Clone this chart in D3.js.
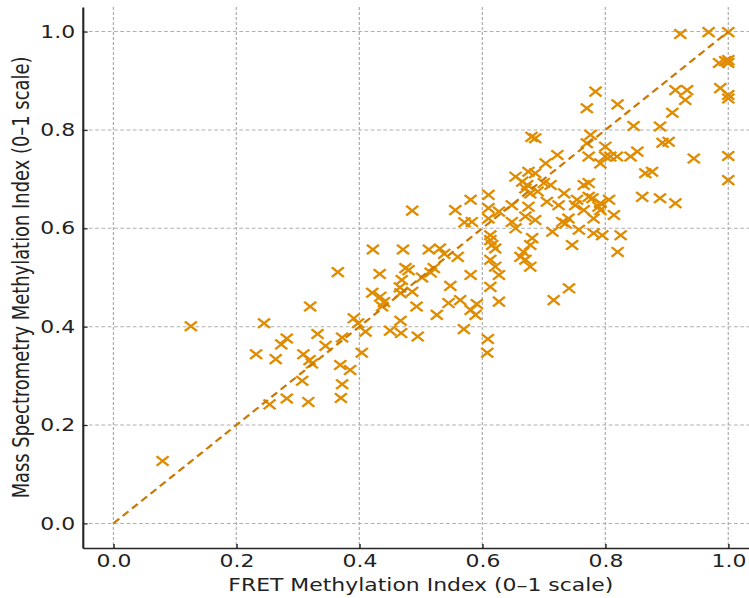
<!DOCTYPE html>
<html>
<head>
<meta charset="utf-8">
<script src="https://cdn.jsdelivr.net/npm/d3@7"></script>
<style>
  body { margin: 0; background: #fff; }
  svg { display: block; }
</style>
</head>
<body>
<div id="scatter"></div>
<script>

// FRET methylation index (x) and mass spectrometry index (y)
var fretIndex = [
  0.080, 0.126, 0.232, 0.245, 0.254, 0.264, 0.273, 0.282, 0.282, 0.307,
  0.309, 0.317, 0.319, 0.320, 0.323, 0.332, 0.345, 0.365, 0.369, 0.370,
  0.372, 0.372, 0.385, 0.391, 0.398, 0.404, 0.410, 0.421, 0.422, 0.433,
  0.434, 0.437, 0.440, 0.450, 0.466, 0.467, 0.468, 0.467, 0.469, 0.471,
  0.475, 0.480, 0.486, 0.486, 0.493, 0.495, 0.502, 0.513, 0.516, 0.521,
  0.526, 0.531, 0.538, 0.545, 0.548, 0.556, 0.560, 0.564, 0.570, 0.571,
  0.581, 0.589, 0.591, 0.581, 0.581, 0.583, 0.608, 0.609, 0.610, 0.610,
  0.610, 0.613, 0.613, 0.616, 0.621, 0.613, 0.621, 0.627, 0.613, 0.627,
  0.627, 0.648, 0.648, 0.654, 0.654, 0.662, 0.667, 0.670, 0.678, 0.678,
  0.681, 0.673, 0.678, 0.670, 0.675, 0.670, 0.686, 0.675, 0.686, 0.686,
  0.680, 0.700, 0.703, 0.705, 0.711, 0.714, 0.716, 0.722, 0.724, 0.730,
  0.735, 0.740, 0.733, 0.741, 0.746, 0.751, 0.754, 0.757, 0.765, 0.765,
  0.770, 0.770, 0.773, 0.773, 0.773, 0.776, 0.779, 0.781, 0.781, 0.784,
  0.789, 0.792, 0.792, 0.792, 0.795, 0.800, 0.800, 0.806, 0.808, 0.814,
  0.819, 0.820, 0.820, 0.825, 0.841, 0.846, 0.852, 0.860, 0.865, 0.876,
  0.889, 0.889, 0.893, 0.903, 0.909, 0.914, 0.914, 0.922, 0.930, 0.933,
  0.944, 0.968, 0.985, 0.987, 0.995, 1.000, 1.000, 1.000, 1.000, 1.000,
  1.000, 1.000, 0.665, 0.690
];

var msIndex = [
  0.127, 0.401, 0.344, 0.407, 0.242, 0.334, 0.364, 0.376, 0.254, 0.290,
  0.344, 0.247, 0.332, 0.441, 0.325, 0.385, 0.361, 0.511, 0.322, 0.255,
  0.378, 0.283, 0.312, 0.417, 0.407, 0.347, 0.390, 0.469, 0.557, 0.507,
  0.461, 0.441, 0.450, 0.392, 0.480, 0.412, 0.387, 0.468, 0.495, 0.557,
  0.519, 0.515, 0.471, 0.636, 0.441, 0.380, 0.500, 0.557, 0.510, 0.519,
  0.424, 0.559, 0.548, 0.448, 0.483, 0.637, 0.542, 0.454, 0.395, 0.612,
  0.434, 0.424, 0.446, 0.505, 0.658, 0.613, 0.347, 0.375, 0.668, 0.641,
  0.620, 0.586, 0.576, 0.566, 0.559, 0.536, 0.522, 0.505, 0.481, 0.451,
  0.634, 0.647, 0.613, 0.600, 0.705, 0.542, 0.552, 0.536, 0.522, 0.566,
  0.580, 0.688, 0.671, 0.681, 0.644, 0.624, 0.617, 0.715, 0.712, 0.783,
  0.786, 0.692, 0.732, 0.654, 0.688, 0.593, 0.454, 0.749, 0.647, 0.613,
  0.610, 0.620, 0.671, 0.478, 0.566, 0.647, 0.658, 0.597, 0.688, 0.637,
  0.844, 0.773, 0.746, 0.692, 0.664, 0.790, 0.661, 0.620, 0.590, 0.878,
  0.644, 0.732, 0.651, 0.637, 0.586, 0.766, 0.746, 0.658, 0.746, 0.627,
  0.746, 0.852, 0.552, 0.586, 0.746, 0.808, 0.756, 0.664, 0.712, 0.715,
  0.807, 0.661, 0.774, 0.776, 0.835, 0.881, 0.651, 0.995, 0.861, 0.881,
  0.742, 0.999, 0.936, 0.885, 0.940, 0.936, 0.942, 0.999, 0.871, 0.864,
  0.747, 0.698, 0.695, 0.675
];

// identity reference line y = x
var refLine = [0, 1];

var xTicks = [0, 0.2, 0.4, 0.6, 0.8, 1.0];
var yTicks = [0, 0.2, 0.4, 0.6, 0.8, 1.0];

var xTitle = "FRET Methylation Index (0\u20131 scale)";
var yTitle = "Mass Spectrometry Methylation Index (0\u20131 scale)";

// The picture is a square figure stretched sideways, so draw in a 598x598
// box and let the viewBox stretch it out to the window
var svgWidth = 749;
var svgHeight = 598;
var boxWidth = 598;

var margin = { top: 7, left: 66 };
var chartWidth = 540;
var chartHeight = 541;

var markColor = "#e08c00";
var lineColor = "#cc7800";
var fontFamily = "'DejaVu Sans', sans-serif";
var fontSize = 17.5;

var svg = d3.select("#scatter")
  .append("svg")
  .attr("width", svgWidth)
  .attr("height", svgHeight)
  .attr("viewBox", `0 0 ${boxWidth} ${svgHeight}`)
  .attr("preserveAspectRatio", "none");

svg.append("rect")
  .attr("width", boxWidth)
  .attr("height", svgHeight)
  .attr("fill", "white");

var chartGroup = svg.append("g")
  .attr("transform", `translate(${margin.left}, ${margin.top})`);

var xScale = d3.scaleLinear()
  .domain([-0.05, 1.05])
  .range([0, chartWidth]);

var yScale = d3.scaleLinear()
  .domain([-0.05, 1.05])
  .range([chartHeight, 0]);

// grid lines
var gridGroup = chartGroup.append("g")
  .attr("stroke", "#b0b0b0")
  .attr("stroke-width", 1)
  .attr("stroke-dasharray", "3,2");

gridGroup.selectAll(".vgrid")
  .data(xTicks)
  .enter()
  .append("line")
  .attr("class", "vgrid")
  .attr("x1", d => xScale(d))
  .attr("x2", d => xScale(d))
  .attr("y1", 0)
  .attr("y2", chartHeight);

gridGroup.selectAll(".hgrid")
  .data(yTicks)
  .enter()
  .append("line")
  .attr("class", "hgrid")
  .attr("x1", 0)
  .attr("x2", chartWidth)
  .attr("y1", d => yScale(d))
  .attr("y2", d => yScale(d));

// scatter of x markers
var points = fretIndex.map((d, i) => ({ x: d, y: msIndex[i] }));
var s = 4.8;

chartGroup.append("g")
  .selectAll("path")
  .data(points)
  .enter()
  .append("path")
  .attr("transform", d => `translate(${xScale(d.x)}, ${yScale(d.y)})`)
  .attr("d", `M${-s},${-s}L${s},${s}M${-s},${s}L${s},${-s}`)
  .attr("fill", "none")
  .attr("stroke", markColor)
  .attr("stroke-width", 2.1);

// dashed y = x line
var createLine = d3.line()
  .x(d => xScale(d))
  .y(d => yScale(d));

chartGroup.append("path")
  .attr("d", createLine(refLine))
  .attr("fill", "none")
  .attr("stroke", lineColor)
  .attr("stroke-width", 2)
  .attr("stroke-dasharray", "6.5,4");

// axes with inward ticks
var bottomAxis = d3.axisBottom(xScale)
  .tickValues(xTicks)
  .tickFormat(d3.format(".1f"))
  .tickSizeInner(-4)
  .tickSizeOuter(0)
  .tickPadding(7);

var leftAxis = d3.axisLeft(yScale)
  .tickValues(yTicks)
  .tickFormat(d3.format(".1f"))
  .tickSizeInner(-4)
  .tickSizeOuter(0)
  .tickPadding(6);

var xAxis = chartGroup.append("g")
  .attr("transform", `translate(0, ${chartHeight})`)
  .call(bottomAxis);

var yAxis = chartGroup.append("g")
  .call(leftAxis);

[xAxis, yAxis].forEach(function(axis) {
  axis.select(".domain")
    .attr("stroke", "#262626")
    .attr("stroke-width", 1.7);
  axis.selectAll(".tick line")
    .attr("stroke", "#262626")
    .attr("stroke-width", 1.2);
  axis.selectAll(".tick text")
    .attr("fill", "#222")
    .style("font-family", fontFamily)
    .style("font-size", fontSize + "px");
});

// axis titles
svg.append("text")
  .attr("x", margin.left + chartWidth / 2)
  .attr("y", 591)
  .attr("text-anchor", "middle")
  .attr("fill", "#222")
  .style("font-family", fontFamily)
  .style("font-size", fontSize + "px")
  .text(xTitle);

svg.append("text")
  .attr("transform", "rotate(-90)")
  .attr("x", -(margin.top + chartHeight / 2))
  .attr("y", 23)
  .attr("text-anchor", "middle")
  .attr("fill", "#222")
  .style("font-family", fontFamily)
  .style("font-size", "17.9px")
  .text(yTitle);

</script>
</body>
</html>
